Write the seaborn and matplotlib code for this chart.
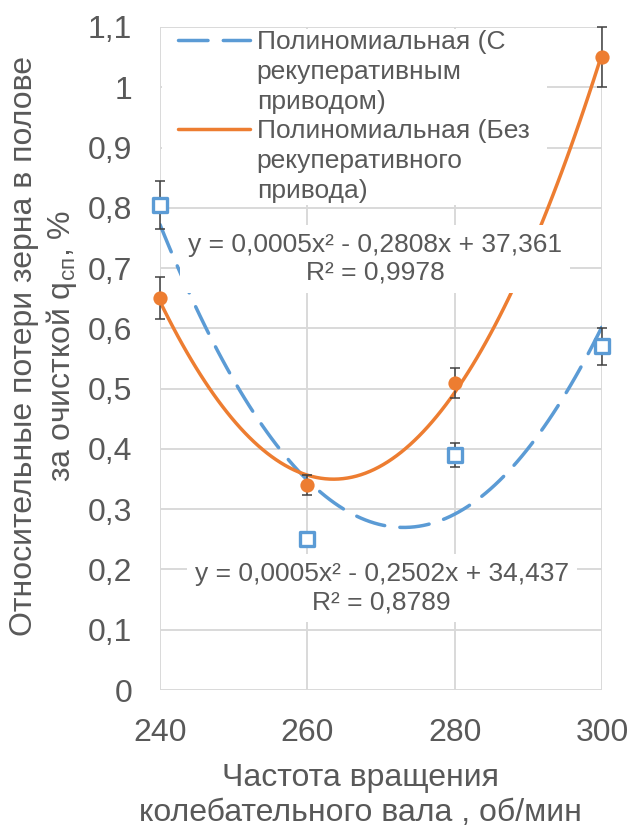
import numpy as np
import pandas as pd
import matplotlib
matplotlib.use("Agg")
import matplotlib.pyplot as plt
from matplotlib.lines import Line2D
from matplotlib.patches import Rectangle
from matplotlib.ticker import FuncFormatter
import seaborn as sns

# Measured grain losses vs. oscillating shaft speed
speed = [240, 260, 280, 300]
loss_regen = [0.805, 0.25, 0.39, 0.57]     # with regenerative drive
err_regen = [0.04, 0.01, 0.02, 0.03]
loss_plain = [0.65, 0.34, 0.51, 1.05]      # without regenerative drive
err_plain = [0.035, 0.017, 0.025, 0.05]

label_regen = ["Полиномиальная (С", "рекуперативным", "приводом)"]
label_plain = ["Полиномиальная (Без", "рекуперативного", "привода)"]
eq_regen = "y = 0,0005x² - 0,2502x + 34,437\nR² = 0,8789"
eq_plain = "y = 0,0005x² - 0,2808x + 37,361\nR² = 0,9978"

x_ticks = [240, 260, 280, 300]
y_ticks = [0, 0.1, 0.2, 0.3, 0.4, 0.5, 0.6, 0.7, 0.8, 0.9, 1.0, 1.1]

xlabel = "Частота вращения\nколебательного вала , об/мин"
ylabel = "Относительные потери зерна в полове\nза очисткой q$_{\\mathrm{сп}}$, %"

BLUE = "#5B9BD5"
ORANGE = "#ED7D31"
TEXT = "#595959"
GRID = "#D9D9D9"
ERR = "#404040"

sns.set_theme(style="white")
plt.rcParams["font.family"] = ["Liberation Sans", "DejaVu Sans"]
plt.rcParams["mathtext.fontset"] = "custom"
plt.rcParams["mathtext.rm"] = "Liberation Sans"
plt.rcParams["mathtext.it"] = "Liberation Sans:italic"
plt.rcParams["mathtext.bf"] = "Liberation Sans:bold"

df = pd.DataFrame({"speed": speed, "regen": loss_regen, "plain": loss_plain})

W, H = 632, 830
fig = plt.figure(figsize=(W / 100, H / 100), dpi=100)
ax = fig.add_axes([160 / W, 140 / H, 442 / W, 663 / H])

# second-order polynomial trendlines
sns.regplot(data=df, x="speed", y="regen", order=2, ci=None, scatter=False, ax=ax,
            line_kws=dict(color=BLUE, lw=2.5, linestyle=(0, (8.5, 4.4)),
                          dash_capstyle="round", zorder=3))
sns.regplot(data=df, x="speed", y="plain", order=2, ci=None, scatter=False, ax=ax,
            line_kws=dict(color=ORANGE, lw=2.5, zorder=3))

# error bars
for y, e in [(loss_regen, err_regen), (loss_plain, err_plain)]:
    cont = ax.errorbar(speed, y, yerr=e, fmt="none", ecolor=ERR, elinewidth=1.1,
                       capsize=3.8, capthick=1.1, zorder=6)
    for art in cont.get_children():
        art.set_clip_on(False)

# measured points
sns.scatterplot(x=speed, y=loss_regen, marker="s", s=95, color="white",
                edgecolor=BLUE, linewidth=2.4, zorder=7, clip_on=False, ax=ax, legend=False)
sns.scatterplot(x=speed, y=loss_plain, marker="o", s=105, color=ORANGE,
                edgecolor=ORANGE, linewidth=0, zorder=7, clip_on=False, ax=ax, legend=False)

ax.set_xlim(240, 300)
ax.set_ylim(0, 1.1)
ax.set_xticks(x_ticks)
ax.set_yticks(y_ticks)
ax.yaxis.set_major_formatter(FuncFormatter(
    lambda v, p: f"{v:.1f}".rstrip("0").rstrip(".").replace(".", ",")))
ax.grid(True, color=GRID, lw=1.4)
ax.set_axisbelow(True)
for s in ax.spines.values():
    s.set_visible(False)
ax.tick_params(length=0, pad=20, labelsize=23, colors=TEXT)

ax.set_xlabel(xlabel, fontsize=23, color=TEXT)
ax.xaxis.set_label_coords(0.4525, (690 - 763) / 663)
ax.set_ylabel(ylabel, fontsize=23, color=TEXT)
ax.yaxis.set_label_coords((79 - 160) / 442, 0.519)

# trendline equations
box = dict(boxstyle="square,pad=0.3", fc="white", ec="none")
ax.text(269.2, 0.715, eq_plain, ha="center", va="center", multialignment="center",
        fontsize=19, color=TEXT, bbox=box, zorder=8)
ax.text(270.1, 0.169, eq_regen, ha="center", va="center", multialignment="center",
        fontsize=19, color=TEXT, bbox=box, zorder=8)

# legend
ax.add_patch(Rectangle((2 / 442, (690 - 205) / 663), 385 / 442, 176 / 663,
                       transform=ax.transAxes, fc="white", ec="none", zorder=4.5))
blank = Line2D([], [], linestyle="none")
handles = [Line2D([], [], color=BLUE, lw=2.5, linestyle=(0, (8.5, 4.4)), dash_capstyle="round"),
           blank, blank,
           Line2D([], [], color=ORANGE, lw=2.5),
           blank, blank]
labels = label_regen + label_plain
leg = ax.legend(handles, labels, loc="upper left",
                bbox_to_anchor=((178 - 160) / 442, (690 - 30) / 663),
                borderaxespad=0, borderpad=0, frameon=False, fontsize=19,
                handlelength=2.73, handletextpad=0.25, labelspacing=0.22,
                labelcolor=TEXT)
leg.set_zorder(5)

fig.savefig("out.png", dpi=100)
